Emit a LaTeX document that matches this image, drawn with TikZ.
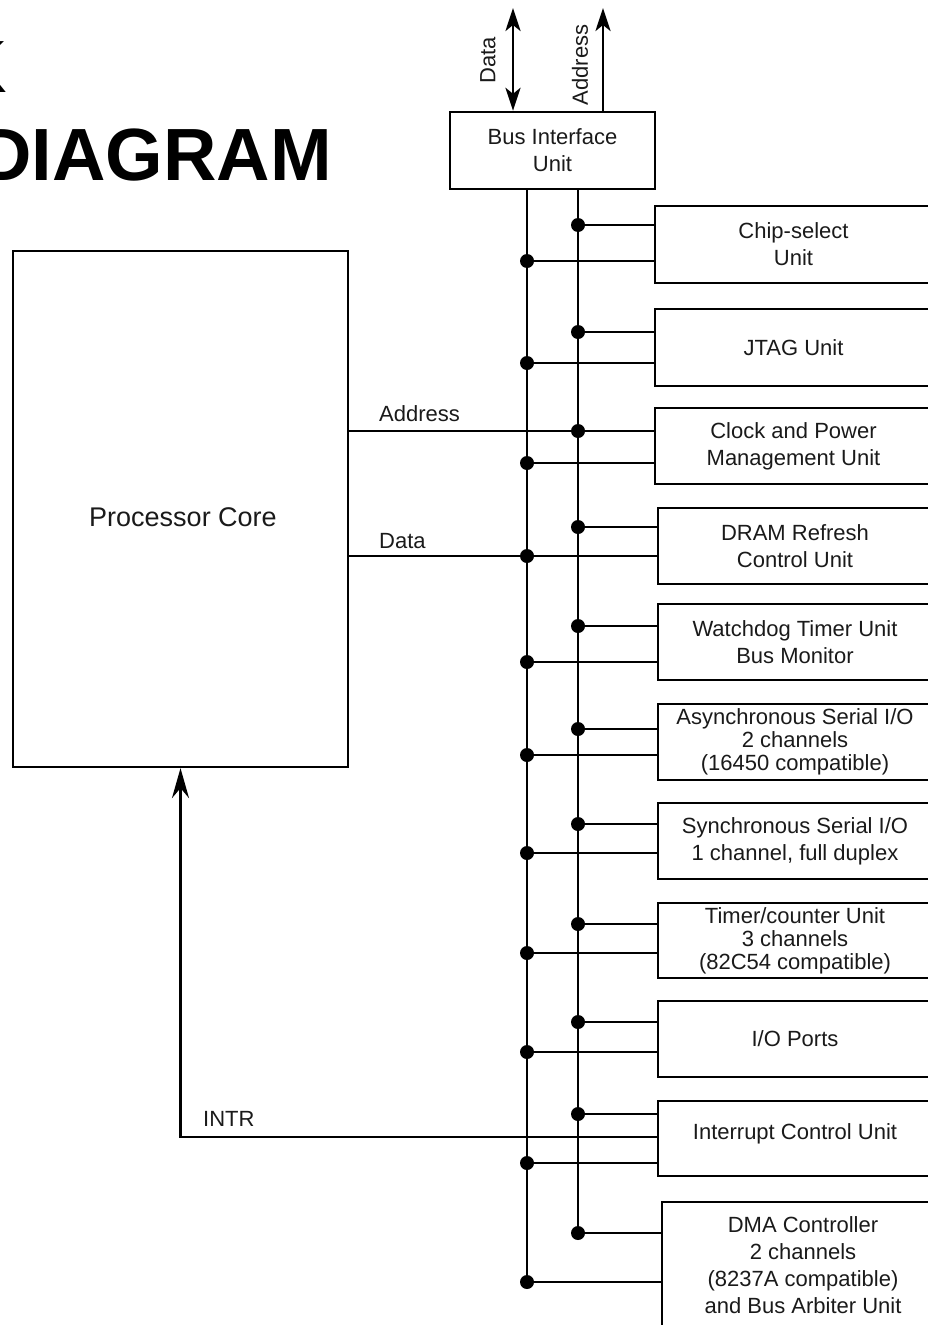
\documentclass[tikz,border=0pt]{standalone}
\usepackage{fontspec}
\setmainfont{Liberation Sans}
\usetikzlibrary{arrows.meta}
\definecolor{txt}{HTML}{1A1A1A}
\begin{document}
\begin{tikzpicture}[x=1pt,y=-1pt,
  unitbox/.style={draw, line width=2.8pt, minimum height=76pt, align=center, inner sep=0pt, text=txt, font=\fontsize{22}{27}\selectfont},
  tight/.style={font=\fontsize{22}{23}\selectfont},
  wire/.style={line width=2.8pt},
  lbl/.style={text=txt, font=\fontsize{22}{26}\selectfont, inner sep=0pt},
  bigtip/.style={line width=2.8pt},
  jdot/.style={fill=black}
]
\useasboundingbox (0,0) rectangle (928,1325);

% title (cut at the left edge)
\node[anchor=base east, inner sep=0pt, font=\fontsize{74}{74}\selectfont\bfseries] (t1) at (7,92) {K};
\node[anchor=base east, inner sep=0pt, font=\fontsize{74}{74}\selectfont\bfseries] (t2) at (332,180) {DIAGRAM};

% bus interface unit
\node[unitbox, line width=2.4pt, minimum width=205pt, minimum height=77pt] (biu) at (552.5,150.5) {Bus Interface\\Unit};
\coordinate (dtop) at (513,8);
\coordinate (atop) at (603,8);
\draw[bigtip, {Stealth[length=23pt,width=15pt,inset=6pt]}-{Stealth[length=23pt,width=15pt,inset=6pt]}] (biu.north -| dtop) -- (dtop);
\draw[bigtip, -{Stealth[length=23pt,width=15pt,inset=6pt]}] (biu.north -| atop) -- (atop);
\node[lbl, rotate=90] (ldata) at (488,60) {Data};
\node[lbl, rotate=90] (laddr) at (580,65) {Address};

% processor core
\node[draw, line width=2.2pt, minimum width=335pt, minimum height=516pt, inner sep=0pt] (core) at (180.5,509) {};
\node[text=txt, inner sep=0pt, font=\fontsize{27}{30}\selectfont] (coretxt) at (183,517) {Processor Core};

% peripheral units
\node[unitbox, minimum width=277pt, minimum height=77pt] (cs) at (793.5,244.5) {Chip-select\\Unit};
\node[unitbox, minimum width=277pt, minimum height=77pt] (jtag) at (793.5,347.5) {JTAG Unit};
\node[unitbox, minimum width=277pt] (clk) at (793.5,446) {Clock and Power\\Management Unit};
\node[unitbox, minimum width=274pt] (dram) at (795,546) {DRAM Refresh\\Control Unit};
\node[unitbox, minimum width=274pt] (wd) at (795,642) {Watchdog Timer Unit\\Bus Monitor};
\node[unitbox, tight, minimum width=274pt] (async) at (795,742) {Asynchronous Serial I/O\\2 channels\\(16450 compatible)};
\node[unitbox, minimum width=274pt] (sync) at (795,841) {Synchronous Serial I/O\\1 channel, full duplex};
\node[unitbox, tight, minimum width=274pt, minimum height=75pt] (timer) at (795,940.5) {Timer/counter Unit\\3 channels\\(82C54 compatible)};
\node[unitbox, minimum width=274pt] (io) at (795,1039) {I/O Ports};
\node[unitbox, minimum width=274pt, minimum height=75pt, text height=16pt, text depth=15pt] (ic) at (795,1138.5) {Interrupt Control Unit};
\node[unitbox, minimum width=282pt, minimum height=126pt] (dma) at (803,1265) {DMA Controller\\2 channels\\(8237A compatible)\\and Bus Arbiter Unit};

% buses
\coordinate (dbus) at (527,1282);
\coordinate (abus) at (578,1233);
\draw[wire] (biu.south -| dbus) -- (dbus);
\draw[wire] (biu.south -| abus) -- (abus);

% core address / data
\draw[wire] (core.east |- 0,431) -- (clk.west |- 0,431);
\draw[wire] (core.east |- 0,556) -- (dram.west |- 0,556);
\node[lbl, anchor=west] (la) at (379,414) {Address};
\node[lbl, anchor=west] (ld) at (379,541) {Data};

% INTR
\draw[wire, -{Stealth[length=30pt,width=17pt,inset=10pt]}] (ic.west |- 0,1137) -| (core.south);
\node[lbl, anchor=west] (lintr) at (203,1119) {INTR};

% unit taps on the buses
\foreach \n/\ya/\yd in {cs/225/261, jtag/332/363, clk/431/463, dram/527/556, wd/626/662, async/729/755, sync/824/853, timer/924/953, io/1022/1052, ic/1114/1163, dma/1233/1282}{
  \draw[wire] (\n.west |- 0,\ya) -- (abus |- 0,\ya);
  \draw[wire] (\n.west |- 0,\yd) -- (dbus |- 0,\yd);
  \fill[jdot] (abus |- 0,\ya) circle (7);
  \fill[jdot] (dbus |- 0,\yd) circle (7);
}
\end{tikzpicture}
\end{document}
